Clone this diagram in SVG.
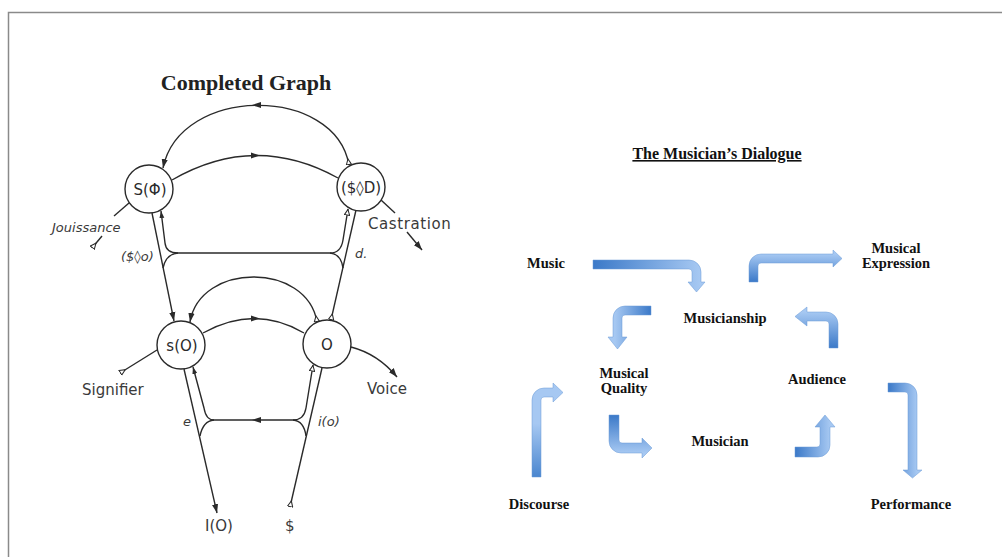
<svg xmlns="http://www.w3.org/2000/svg" width="1002" height="557" viewBox="0 0 1002 557">
<style>
.ln{fill:none;stroke:#2a2a2a;stroke-width:1.4}
.nd{fill:#fff;stroke:#2a2a2a;stroke-width:1.4}
.nt{font-family:"DejaVu Sans",sans-serif;font-size:15px;fill:#2a2a2a;text-anchor:middle}
.lb{font-family:"DejaVu Sans",sans-serif;font-size:15px;fill:#3a3a3a}
.it{font-family:"DejaVu Sans",sans-serif;font-size:13px;font-style:italic;fill:#3a3a3a}
.rt{font-family:"Liberation Serif",serif;font-weight:bold;font-size:14.5px;fill:#111;text-anchor:middle}
.ar{stroke:#6a9ad6;stroke-width:0.5}
</style>
<defs>
<marker id="ah" viewBox="0 0 10 8" refX="10" refY="4" markerWidth="9" markerHeight="7.2" orient="auto" markerUnits="userSpaceOnUse"><path d="M0,0.5 L10,4 L0,7.5 Z" fill="#2a2a2a"/></marker>
<marker id="ahs" viewBox="0 0 10 8" refX="10" refY="4" markerWidth="7" markerHeight="5.6" orient="auto" markerUnits="userSpaceOnUse"><path d="M0,0.5 L10,4 L0,7.5 Z" fill="#2a2a2a"/></marker>
<marker id="os" viewBox="0 0 8 8" refX="0" refY="4" markerWidth="7" markerHeight="7" orient="auto" markerUnits="userSpaceOnUse"><path d="M0.5,1 L7,4 L0.5,7 Z" fill="#fff" stroke="#2a2a2a" stroke-width="1.2"/></marker>
<marker id="ot" viewBox="0 0 8 8" refX="7.5" refY="4" markerWidth="7" markerHeight="7" orient="auto" markerUnits="userSpaceOnUse"><path d="M0.5,1 L7,4 L0.5,7 Z" fill="#fff" stroke="#2a2a2a" stroke-width="1.2"/></marker>
<linearGradient id="g1" gradientUnits="userSpaceOnUse" x1="593" y1="0" x2="700" y2="0"><stop offset="0" stop-color="#3b79c8"/><stop offset="1" stop-color="#a6c8f2"/></linearGradient>
<linearGradient id="g2" gradientUnits="userSpaceOnUse" x1="0" y1="282" x2="0" y2="254"><stop offset="0" stop-color="#3b79c8"/><stop offset="1" stop-color="#a6c8f2"/></linearGradient>
<linearGradient id="g3" gradientUnits="userSpaceOnUse" x1="651" y1="0" x2="615" y2="0"><stop offset="0" stop-color="#3b79c8"/><stop offset="1" stop-color="#a6c8f2"/></linearGradient>
<linearGradient id="g4" gradientUnits="userSpaceOnUse" x1="0" y1="348" x2="0" y2="312"><stop offset="0" stop-color="#3b79c8"/><stop offset="1" stop-color="#a6c8f2"/></linearGradient>
<linearGradient id="g5" gradientUnits="userSpaceOnUse" x1="0" y1="477" x2="0" y2="388"><stop offset="0" stop-color="#4a86cf"/><stop offset="0.6" stop-color="#a6c8f2"/></linearGradient>
<linearGradient id="g6" gradientUnits="userSpaceOnUse" x1="0" y1="415" x2="0" y2="453"><stop offset="0" stop-color="#3b79c8"/><stop offset="1" stop-color="#a6c8f2"/></linearGradient>
<linearGradient id="g7" gradientUnits="userSpaceOnUse" x1="795" y1="0" x2="830" y2="0"><stop offset="0" stop-color="#3b79c8"/><stop offset="1" stop-color="#a6c8f2"/></linearGradient>
<linearGradient id="g8" gradientUnits="userSpaceOnUse" x1="888" y1="0" x2="917" y2="0"><stop offset="0" stop-color="#3b79c8"/><stop offset="1" stop-color="#a6c8f2"/></linearGradient>
</defs>
<rect width="1002" height="557" fill="#fff"/>
<path d="M8.5,557 V12.5 H1002" fill="none" stroke="#8a8a8a" stroke-width="1.5"/>

<text x="246" y="90" font-family="Liberation Serif, serif" font-weight="bold" font-size="22" fill="#222" text-anchor="middle">Completed Graph</text>

<g id="connectors">
<path class="ln" d="M349,165 C335,85 180,85 163,168" marker-start="url(#os)" marker-end="url(#ah)"/>
<polygon points="252,105 261,102 261,108" fill="#2a2a2a"/>
<path class="ln" d="M172,180 Q255,132 338,178"/>
<polygon points="260,155.5 251,152.5 251,158.5" fill="#2a2a2a"/>
<path class="ln" d="M152,213 L174,321" marker-end="url(#ah)"/>
<path class="ln" d="M178,253 Q166,253 165,243 L161,211" marker-end="url(#ahs)"/>
<path class="ln" d="M178,253 Q166,254 163,268"/>
<path class="ln" d="M178,253 H330"/>
<path class="ln" d="M330,253 Q341,253 343,240 L348,209" marker-end="url(#ot)"/>
<path class="ln" d="M330,253 Q341,254 343,268"/>
<path class="ln" d="M331,320 L356,210" marker-start="url(#os)"/>
<path class="ln" d="M317,322 C307,262 200,262 190,322" marker-start="url(#os)" marker-end="url(#ah)"/>
<path class="ln" d="M203,333 Q255,304 304,333"/>
<polygon points="260,318.5 251,315.5 251,321.5" fill="#2a2a2a"/>
<path class="ln" d="M184,369 L217,513" marker-end="url(#ah)"/>
<path class="ln" d="M214,420 Q206,420 204,408 L193,367" marker-end="url(#ahs)"/>
<path class="ln" d="M214,420 Q203,421 200,436"/>
<path class="ln" d="M214,420 H293"/>
<polygon points="252,420 261,417 261,423" fill="#2a2a2a"/>
<path class="ln" d="M293,420 Q304,420 306,408 L313,365" marker-end="url(#ot)"/>
<path class="ln" d="M293,420 Q304,421 306,436"/>
<path class="ln" d="M290,507 L322,368" marker-start="url(#os)"/>
<path class="ln" d="M120,373 L157,350" marker-start="url(#os)"/>
<path class="ln" d="M351,347 Q378,354 397,377" marker-end="url(#ah)"/>
<path class="ln" d="M92,248 L102,236" marker-start="url(#os)"/>
<path class="ln" d="M114,216 L129,203"/>
<path class="ln" d="M381,200 L395,213"/>
<path class="ln" d="M407,232 L422,250" marker-end="url(#ah)"/>
</g>

<g id="node-SPhi"><circle class="nd" cx="149" cy="189" r="24"/><text class="nt" x="150" y="195">S(Φ)</text></g>
<g id="node-SD"><circle class="nd" cx="361" cy="187" r="24"/><text class="nt" x="361" y="193" font-size="14">($◊D)</text></g>
<g id="node-sO"><circle class="nd" cx="181" cy="345" r="24"/><text class="nt" x="182" y="351" font-size="14">s(O)</text></g>
<g id="node-O"><circle class="nd" cx="327" cy="344" r="24"/><text class="nt" x="327" y="350">O</text></g>

<g id="labels-left">
<text class="it" x="52" y="232" font-size="14">Jouissance</text>
<text class="it" x="121" y="261" font-size="15">($◊o)</text>
<text class="it" x="355" y="258" font-size="14">d.</text>
<text class="lb" x="368" y="229" font-size="16" letter-spacing="0.6">Castration</text>
<text class="lb" x="82" y="395" font-size="15.5">Signifier</text>
<text class="lb" x="367" y="394" font-size="16.5">Voice</text>
<text class="it" x="183" y="426">e</text>
<text class="it" x="318" y="426" font-size="14">i(o)</text>
<text class="lb" x="205" y="531" font-size="17">I(O)</text>
<text class="lb" x="285" y="531" font-size="16">$</text>
</g>

<text x="717" y="159" font-family="Liberation Serif, serif" font-weight="bold" font-size="16" fill="#111" text-anchor="middle" text-decoration="underline">The Musician’s Dialogue</text>

<g id="arrows-right">
<path class="ar" fill="url(#g1)" d="M593,260 H689 A12,12 0 0 1 701,272 V282 H705 L696.5,292 L688,282 H692 V272 A3,3 0 0 0 689,269 H593 Z"/>
<path class="ar" fill="url(#g2)" d="M749,282 V266 A12,12 0 0 1 761,254 H833 V250 L842,258.5 L833,267 V263 H761 A3,3 0 0 0 758,266 V282 Z"/>
<path class="ar" fill="url(#g3)" d="M651,306 H625 A12,12 0 0 0 613,318 V337 H608 L617.5,349 L627,337 H622 V318 A3,3 0 0 1 625,315 H651 Z"/>
<path class="ar" fill="url(#g4)" d="M838,348 V324 A12,12 0 0 0 826,312 H807 V307 L795,316.5 L807,326 V321 H826 A3,3 0 0 1 829,324 V348 Z"/>
<path class="ar" fill="url(#g5)" d="M532,477 V400 A12,12 0 0 1 544,388 H553 V383 L563,392.5 L553,402 V397 H544 A3,3 0 0 0 541,400 V477 Z"/>
<path class="ar" fill="url(#g6)" d="M609,415 V441 A12,12 0 0 0 621,453 H642 V458 L652,448 L642,438 V443 H622 A3,3 0 0 1 619,440 V415 Z"/>
<path class="ar" fill="url(#g7)" d="M795,457 H818 A12,12 0 0 0 830,445 V427 H835 L825,415 L815,427 H820 V444 A3,3 0 0 1 817,447 H795 Z"/>
<path class="ar" fill="url(#g8)" d="M888,383 H905 A12,12 0 0 1 917,395 V470 H922 L912.5,478 L903,470 H908 V395 A3,3 0 0 0 905,392 H888 Z"/>
</g>

<g id="node-music"><text class="rt" x="546" y="268">Music</text></g>
<g id="node-expression"><text class="rt" x="896" y="253">Musical</text><text class="rt" x="896" y="268">Expression</text></g>
<g id="node-musicianship"><text class="rt" x="725" y="323">Musicianship</text></g>
<g id="node-quality"><text class="rt" x="624" y="378">Musical</text><text class="rt" x="624" y="393">Quality</text></g>
<g id="node-audience"><text class="rt" x="817" y="384">Audience</text></g>
<g id="node-musician"><text class="rt" x="720" y="446">Musician</text></g>
<g id="node-discourse"><text class="rt" x="539" y="509">Discourse</text></g>
<g id="node-performance"><text class="rt" x="911" y="509">Performance</text></g>
</svg>
